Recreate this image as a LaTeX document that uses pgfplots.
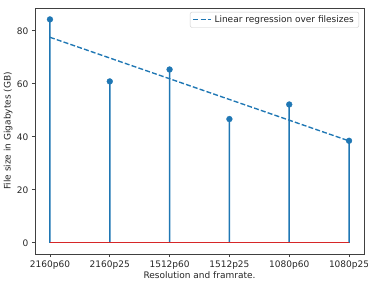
\documentclass[border=0pt]{standalone}
\usepackage{fontspec}
\setmainfont{DejaVu Sans}
\usepackage{pgfplots}
\pgfplotsset{compat=1.18}
\definecolor{tabblue}{HTML}{1F77B4}
\definecolor{tabred}{HTML}{D62728}
\pgfplotstableread{
x y
0 84.3
1 60.9
2 65.4
3 46.7
4 52.2
5 38.5
}\sizes
\begin{document}
\begin{tikzpicture}
\begin{axis}[
  at={(0,0)}, anchor=south west,
  scale only axis, width=329bp, height=246bp,
  xmin=-0.25, xmax=5.25, ymin=-4.22, ymax=88.6,
  xtick={0,1,2,3,4,5},
  xticklabels={2160p60,2160p25,1512p60,1512p25,1080p60,1080p25},
  ytick={0,20,40,60,80},
  tick align=outside, major tick length=3.2bp,
  xtick pos=bottom, ytick pos=left,
  axis line style={black!75, line width=0.7bp},
  every tick/.style={black!75, line width=0.7bp},
  tick label style={font=\fontsize{9bp}{10bp}\selectfont, text=black!85},
  /pgf/number format/assume math mode=true,
  xlabel={Resolution and framrate.},
  ylabel={File size in Gigabytes (GB)},
  label style={font=\fontsize{9bp}{10bp}\selectfont, text=black!85},
  xlabel style={at={(axis description cs:0.5,-0.0854)}, anchor=center},
  ylabel style={at={(axis description cs:-0.082,0.5)}, anchor=center},
  legend style={at={(0.985,0.984)}, anchor=north east, draw=black!20, rounded corners=2bp,
    font=\fontsize{9bp}{10bp}\selectfont, text=black!85, fill=white,
    inner xsep=2.5bp, inner ysep=1.5bp,
    nodes={inner xsep=2.5bp, inner ysep=2bp}},
  legend image code/.code={\draw[#1] (0bp,0bp) -- (18bp,0bp);},
  legend cell align=left,
]
\addplot[ybar, bar width=1.5bp, fill=tabblue, draw=none, forget plot] table[x=x, y=y] {\sizes};
\addplot[only marks, mark=*, mark size=2.9bp, mark options={fill=tabblue, draw=tabblue}, forget plot]
  table[x=x, y=y] {\sizes};
\addplot[tabred, line width=1.1bp, forget plot] coordinates {(0,0) (5,0)};
\addplot[tabblue, line width=1.37bp, dash pattern=on 5bp off 2.2bp]
  coordinates {(0,77.55) (5,38.45)};
\addlegendentry{Linear regression over filesizes}
\end{axis}
\pgfresetboundingbox
\path[use as bounding box] (-35bp,-28bp) rectangle (333bp,254bp);
\end{tikzpicture}
\end{document}
